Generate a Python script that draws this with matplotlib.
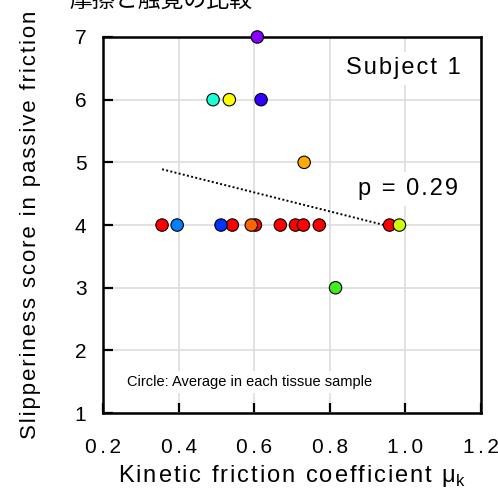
import matplotlib
matplotlib.use("Agg")
import matplotlib.pyplot as plt

# kinetic friction coefficient / slipperiness score / colour of each tissue sample
mu_k = [0.356, 0.542, 0.603, 0.669, 0.709, 0.730, 0.772, 0.958,
        0.396, 0.512, 0.592, 0.984, 0.815, 0.732, 0.491, 0.534, 0.618, 0.608]
score = [4, 4, 4, 4, 4, 4, 4, 4,
         4, 4, 4, 4, 3, 5, 6, 6, 6, 7]
colors = ['#ff0000'] * 8 + ['#0080ff', '#0033ff', '#ff6600', '#ccff00',
                            '#40ee20', '#ffaa00', '#1affd5', '#ffff00',
                            '#3300ff', '#8800ff']

trend_x = [0.356, 0.970]
trend_y = [4.89, 3.96]

xticks = [0.2, 0.4, 0.6, 0.8, 1.0, 1.2]
yticks = [1, 2, 3, 4, 5, 6, 7]

plt.rcParams['font.family'] = ['Liberation Sans', 'DejaVu Sans']


def spaced(s, n=1):
    # the original uses wide letter spacing, fake it with hair spaces
    return ('\u200a' * n).join(s)


fig = plt.figure(figsize=(4.98, 4.93), dpi=100)
ax = fig.add_axes([0.207, 0.162, 0.759, 0.763])

ax.set_xlim(0.2, 1.2)
ax.set_ylim(1, 7)
ax.set_xticks(xticks)
ax.set_xticklabels([spaced('%.1f' % v, 2) for v in xticks])
ax.set_yticks(yticks)
ax.grid(True, color='#dddddd', linewidth=1.2)
ax.set_axisbelow(True)

for s in ax.spines.values():
    s.set_linewidth(1.8)
ax.tick_params(direction='in', length=7, width=1.6, labelsize=15, pad=12)
ax.tick_params(axis='x', pad=18)

ax.plot(trend_x, trend_y, color='black', linestyle=(0, (1, 1.2)), linewidth=1.4, zorder=2)
ax.scatter(mu_k, score, s=80, c=colors, edgecolors='black', linewidths=0.8,
           zorder=3, clip_on=False)

box = dict(facecolor='white', edgecolor='none', pad=4)
ax.text(0.995, 6.5, spaced('Subject 1'), fontsize=17, ha='center', va='center', bbox=box, zorder=4)
ax.text(1.008, 4.575, spaced('p = 0.29'), fontsize=17, ha='center', va='center', bbox=box, zorder=4)
ax.text(0.264, 1.495, 'Circle: Average in each tissue sample', fontsize=10.5,
        ha='left', va='center', bbox=dict(facecolor='white', edgecolor='none', pad=3), zorder=4)

ax.set_xlabel(spaced('Kinetic friction coefficient μ') + '$_\\mathregular{k}$', fontsize=17, labelpad=4)
ax.set_ylabel(spaced('Slipperiness score in passive friction'), fontsize=16, labelpad=24)

fig.text(0.14, 1.0, '摩擦と触覚の比較', fontsize=16.5, va='center', ha='left',
         family=['Noto Sans CJK JP', 'DejaVu Sans'])

fig.savefig('out.png', dpi=100)
